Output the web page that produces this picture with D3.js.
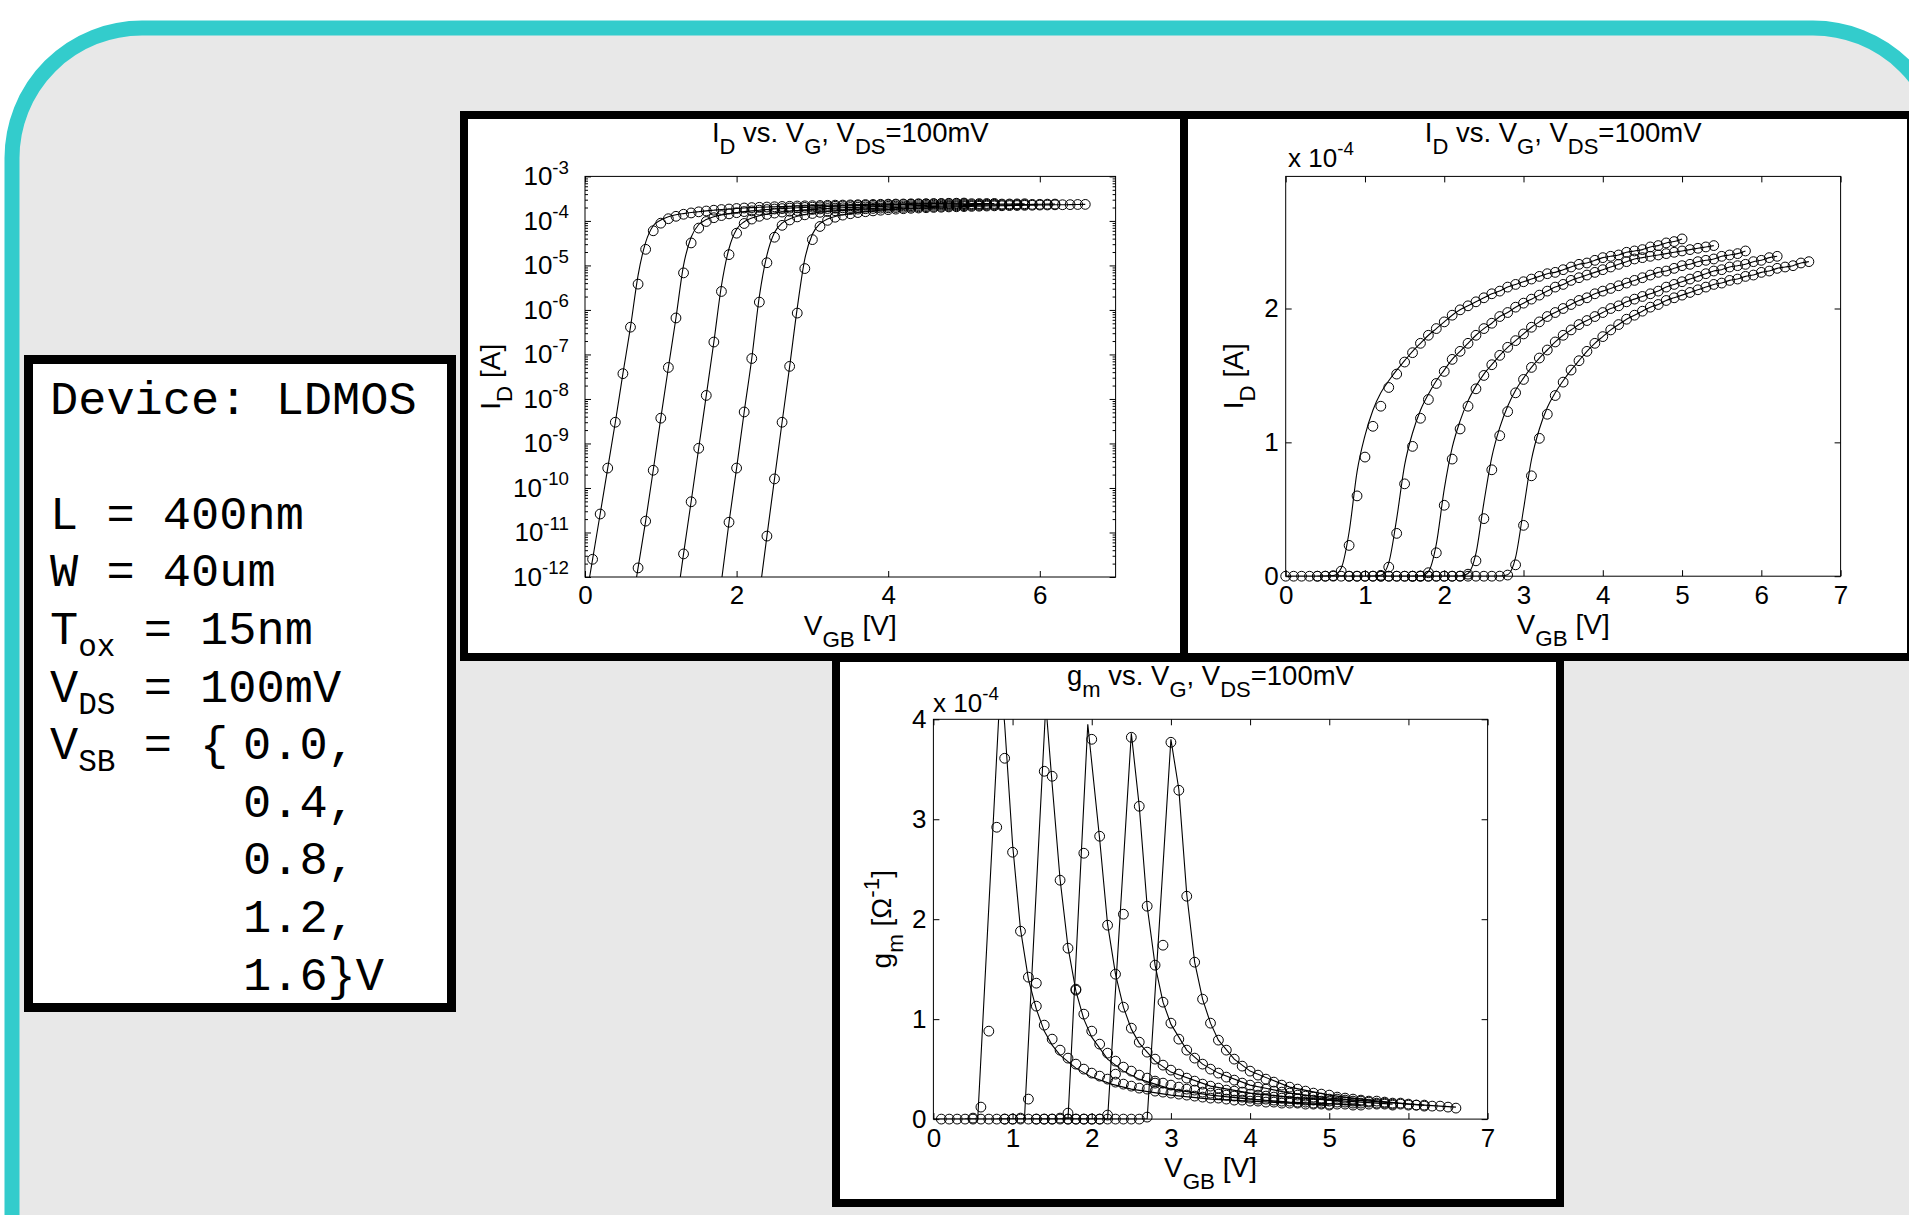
<!DOCTYPE html>
<html>
<head>
<meta charset="utf-8">
<script src="https://cdn.jsdelivr.net/npm/d3@7/dist/d3.min.js"></script>
<style>
html,body{margin:0;padding:0;background:#fff;}
svg{display:block;}
text{white-space:pre;}
</style>
</head>
<body>
<svg id="fig" width="1909" height="1215"></svg>
<script>
// ================= DATA =================
// body bias of each curve [V]
const vsbValues = [0.0, 0.4, 0.8, 1.2, 1.6];
// gate sweep relative to source [V]; V_GB = V_SB + V_G
const vgSweep = [0.0,0.1,0.2,0.3,0.4,0.5,0.6,0.7,0.8,0.9,1.0,1.1,1.2,1.3,1.4,1.5,1.6,1.7,1.8,1.9,
  2.0,2.1,2.2,2.3,2.4,2.5,2.6,2.7,2.8,2.9,3.0,3.1,3.2,3.3,3.4,3.5,3.6,3.7,3.8,3.9,
  4.0,4.1,4.2,4.3,4.4,4.5,4.6,4.7,4.8,4.9,5.0];

// measured drain current I_D [A] (circles), one value per vgSweep step
const idMeas0 = [2.4e-13,2.5e-12,2.6e-11,2.8e-10,3.0e-9,3.7e-8,4.1e-7,3.8e-6,2.3e-5,6.0e-5,
  8.9e-5,1.12e-4,1.27e-4,1.41e-4,1.51e-4,1.60e-4,1.67e-4,1.74e-4,1.80e-4,1.85e-4,
  1.90e-4,1.95e-4,1.99e-4,2.02e-4,2.05e-4,2.08e-4,2.11e-4,2.13e-4,2.16e-4,2.18e-4,
  2.20e-4,2.22e-4,2.24e-4,2.26e-4,2.27e-4,2.29e-4,2.31e-4,2.33e-4,2.34e-4,2.36e-4,
  2.38e-4,2.39e-4,2.40e-4,2.42e-4,2.43e-4,2.44e-4,2.46e-4,2.47e-4,2.49e-4,2.50e-4,2.52e-4];
const idMeas1 = [1.0e-15,1.2e-14,1.4e-13,1.6e-12,1.8e-11,2.5e-10,3.7e-9,5.1e-8,6.6e-7,6.8e-6,
  3.2e-5,6.9e-5,9.7e-5,1.18e-4,1.32e-4,1.44e-4,1.53e-4,1.62e-4,1.68e-4,1.74e-4,
  1.80e-4,1.85e-4,1.89e-4,1.94e-4,1.97e-4,2.01e-4,2.04e-4,2.07e-4,2.10e-4,2.13e-4,
  2.16e-4,2.18e-4,2.21e-4,2.23e-4,2.25e-4,2.27e-4,2.29e-4,2.31e-4,2.33e-4,2.35e-4,
  2.37e-4,2.38e-4,2.39e-4,2.40e-4,2.41e-4,2.42e-4,2.43e-4,2.44e-4,2.45e-4,2.46e-4,2.47e-4];
const idMeas2 = [3e-18,5e-17,8e-16,1.3e-14,2.0e-13,3.3e-12,4.9e-11,7.8e-10,1.2e-8,1.9e-7,
  2.6e-6,1.75e-5,5.3e-5,8.75e-5,1.10e-4,1.27e-4,1.40e-4,1.50e-4,1.58e-4,1.65e-4,
  1.71e-4,1.76e-4,1.81e-4,1.86e-4,1.90e-4,1.94e-4,1.97e-4,2.00e-4,2.03e-4,2.06e-4,
  2.08e-4,2.11e-4,2.13e-4,2.15e-4,2.17e-4,2.19e-4,2.21e-4,2.23e-4,2.25e-4,2.27e-4,
  2.28e-4,2.30e-4,2.32e-4,2.33e-4,2.35e-4,2.36e-4,2.37e-4,2.39e-4,2.40e-4,2.41e-4,2.43e-4];
const idMeas3 = [5e-20,7e-19,1e-17,2e-16,3e-15,5e-14,8e-13,1.7e-11,2.8e-10,5.1e-9,
  8.1e-8,1.5e-6,1.15e-5,4.3e-5,7.95e-5,1.05e-4,1.23e-4,1.37e-4,1.47e-4,1.56e-4,
  1.63e-4,1.69e-4,1.75e-4,1.80e-4,1.84e-4,1.88e-4,1.91e-4,1.94e-4,1.97e-4,2.00e-4,
  2.02e-4,2.05e-4,2.07e-4,2.09e-4,2.11e-4,2.13e-4,2.16e-4,2.18e-4,2.20e-4,2.22e-4,
  2.24e-4,2.26e-4,2.28e-4,2.29e-4,2.31e-4,2.32e-4,2.33e-4,2.35e-4,2.36e-4,2.38e-4,2.39e-4];
const idMeas4 = [2e-21,3e-20,4e-19,6e-18,8e-17,1e-15,2e-14,4e-13,8.3e-12,1.6e-10,
  3.0e-9,5.4e-8,8.5e-7,8.5e-6,3.8e-5,7.5e-5,1.03e-4,1.21e-4,1.35e-4,1.45e-4,
  1.54e-4,1.61e-4,1.68e-4,1.74e-4,1.79e-4,1.84e-4,1.88e-4,1.92e-4,1.95e-4,1.98e-4,
  2.01e-4,2.03e-4,2.06e-4,2.08e-4,2.10e-4,2.12e-4,2.14e-4,2.16e-4,2.18e-4,2.19e-4,
  2.21e-4,2.22e-4,2.24e-4,2.25e-4,2.27e-4,2.28e-4,2.30e-4,2.31e-4,2.32e-4,2.34e-4,2.35e-4];

// model (solid line) values that differ from the measurement near the knee: [V_GB, I_D]
const idModelKnee0 = [[0.7,6e-6],[0.8,3.3e-5],[0.9,7.8e-5],[1.0,1.05e-4],[1.1,1.24e-4],[1.2,1.37e-4],[1.3,1.46e-4],[1.4,1.54e-4],[1.5,1.61e-4],[1.6,1.68e-4],[1.7,1.74e-4]];
const idModelKnee1 = [[1.3,1.0e-5],[1.4,4.3e-5],[1.5,8.3e-5],[1.6,1.07e-4],[1.7,1.24e-4],[1.8,1.36e-4],[1.9,1.46e-4],[2.0,1.54e-4]];
const idModelKnee2 = [[1.8,3.5e-6],[1.9,2.4e-5],[2.0,6.5e-5],[2.1,9.6e-5],[2.2,1.16e-4],[2.3,1.31e-4],[2.4,1.42e-4],[2.5,1.51e-4]];
const idModelKnee3 = [[2.3,2.0e-6],[2.4,1.7e-5],[2.5,5.5e-5],[2.6,8.9e-5],[2.7,1.11e-4],[2.8,1.27e-4],[2.9,1.39e-4],[3.0,1.48e-4]];
const idModelKnee4 = [[2.8,1.1e-6],[2.9,1.4e-5],[3.0,5.0e-5],[3.1,8.7e-5],[3.2,1.10e-4],[3.3,1.26e-4],[3.4,1.37e-4],[3.5,1.46e-4]];

// measured transconductance g_m [x1e-4 1/Ohm], at vgSweep[1..50]
const gmMeas0 = [0,0,0,0,0.01,0.12,0.88,2.92,3.61,2.67,1.88,1.42,1.13,0.94,0.80,0.69,0.61,0.55,0.50,0.46,
  0.43,0.40,0.37,0.35,0.33,0.31,0.30,0.28,0.27,0.26,0.25,0.24,0.23,0.22,0.21,0.21,0.20,0.19,0.19,0.18,
  0.18,0.17,0.17,0.16,0.16,0.16,0.15,0.15,0.15,0.14];
const gmMeas1 = [0,0,0,0,0,0,0.01,0.20,1.36,3.48,3.43,2.39,1.71,1.30,1.05,0.88,0.75,0.66,0.58,0.52,
  0.48,0.44,0.41,0.38,0.36,0.34,0.32,0.30,0.29,0.27,0.26,0.25,0.24,0.23,0.22,0.21,0.20,0.20,0.19,0.18,
  0.18,0.17,0.17,0.16,0.16,0.15,0.15,0.15,0.14,0.14];
const gmMeas2 = [0,0,0,0,0,0,0,0.01,0.06,1.29,2.66,3.80,2.83,1.94,1.45,1.12,0.91,0.77,0.67,0.60,
  0.54,0.49,0.45,0.41,0.38,0.35,0.33,0.31,0.29,0.28,0.27,0.25,0.24,0.23,0.22,0.21,0.21,0.20,0.19,0.19,
  0.18,0.18,0.17,0.17,0.16,0.16,0.15,0.15,0.15,0.14];
const gmMeas3 = [0,0,0,0,0,0,0,0,0,0.04,0.45,2.05,3.82,3.13,2.13,1.54,1.17,0.96,0.80,0.69,
  0.61,0.55,0.50,0.46,0.42,0.39,0.36,0.34,0.32,0.30,0.28,0.27,0.26,0.24,0.23,0.22,0.21,0.20,0.20,0.19,
  0.18,0.18,0.17,0.16,0.16,0.15,0.15,0.14,0.14,0.13];
const gmMeas4 = [0,0,0,0,0,0,0,0,0,0,0.02,0.36,1.74,3.77,3.29,2.23,1.57,1.20,0.96,0.79,
  0.69,0.60,0.53,0.48,0.44,0.40,0.37,0.34,0.32,0.30,0.28,0.26,0.25,0.24,0.22,0.21,0.20,0.19,0.18,0.18,
  0.17,0.16,0.16,0.15,0.14,0.14,0.13,0.13,0.12,0.11];

// model g_m lines: [V_GB, g_m x1e-4]
const gmModel0 = [[0.0,0],[0.56,0],[0.85,4.4],[0.9,3.95],[1.0,2.75],[1.1,1.9],[1.2,1.4],[1.3,1.1],[1.4,0.88],[1.5,0.74],[1.6,0.64],[1.8,0.51],[2.0,0.42],[2.25,0.35],[2.5,0.30],[3.0,0.24],[3.5,0.20],[4.0,0.18],[4.5,0.16],[5.0,0.14]];
const gmModel1 = [[0.4,0],[1.15,0],[1.42,4.15],[1.5,3.35],[1.6,2.4],[1.7,1.72],[1.8,1.28],[1.9,1.0],[2.0,0.82],[2.2,0.6],[2.4,0.48],[2.6,0.40],[3.0,0.30],[3.5,0.24],[4.0,0.20],[4.5,0.17],[5.4,0.14]];
const gmModel2 = [[0.8,0],[1.7,0],[1.95,3.95],[2.1,2.8],[2.2,1.95],[2.3,1.45],[2.4,1.12],[2.5,0.9],[2.6,0.76],[2.8,0.58],[3.0,0.47],[3.5,0.33],[4.0,0.26],[4.5,0.22],[5.0,0.19],[5.8,0.15]];
const gmModel3 = [[1.2,0],[2.2,0],[2.5,3.86],[2.6,3.13],[2.7,2.13],[2.8,1.54],[2.9,1.17],[3.0,0.95],[3.2,0.69],[3.4,0.55],[3.6,0.46],[4.0,0.34],[4.5,0.26],[5.0,0.21],[5.5,0.18],[6.2,0.14]];
const gmModel4 = [[1.6,0],[2.7,0],[3.0,3.8],[3.1,3.3],[3.2,2.25],[3.3,1.57],[3.4,1.2],[3.5,0.96],[3.6,0.79],[3.8,0.6],[4.0,0.48],[4.5,0.32],[5.0,0.24],[5.5,0.19],[6.0,0.15],[6.6,0.12]];

// ticks
const xTicksLog = [0, 2, 4, 6];
const xTicksLin = [0, 1, 2, 3, 4, 5, 6, 7];
const logExponents = [-3, -4, -5, -6, -7, -8, -9, -10, -11, -12];
const logMinorMult = [2, 3, 4, 5, 6, 7, 8, 9];
const yTicksId = [0, 1, 2];
const yTicksGm = [0, 1, 2, 3, 4];
const idUnit = 1e-4;

// ================= DRAWING =================
const idMeas = [idMeas0, idMeas1, idMeas2, idMeas3, idMeas4];
const idKnee = [idModelKnee0, idModelKnee1, idModelKnee2, idModelKnee3, idModelKnee4];
const gmMeas = [gmMeas0, gmMeas1, gmMeas2, gmMeas3, gmMeas4];
const gmModel = [gmModel0, gmModel1, gmModel2, gmModel3, gmModel4];

const SANS = "'Liberation Sans', Arial, Helvetica, sans-serif";
const MONO = "'Liberation Mono', 'Courier New', monospace";
const svg = d3.select('#fig');

svg.append('rect').attr('width', 1909).attr('height', 1215).attr('fill', '#fff');
// teal rounded frame
svg.append('rect').attr('x', 12).attr('y', 28).attr('width', 1931).attr('height', 1400)
  .attr('rx', 130).attr('ry', 130).attr('fill', '#e8e8e8')
  .attr('stroke', '#33cccc').attr('stroke-width', 15);

function rich(parent, parts, o) {
  const size = o.size || 26;
  const t = parent.append('text').attr('x', o.x || 0).attr('y', o.y || 0)
    .attr('font-size', size).attr('font-family', o.family || SANS)
    .attr('text-anchor', o.anchor || 'start').attr('fill', '#000');
  let cur = 0;
  parts.forEach(([s, mode]) => {
    const target = mode === 'sub' ? size * (o.subShift || 0.4) : mode === 'sup' ? -size * (o.supShift || 0.45) : 0;
    const ts = t.append('tspan').text(s).attr('dy', target - cur);
    if (mode) ts.attr('font-size', size * (o.subScale || 0.72));
    cur = target;
  });
  return t;
}

function panel(x0, y0, x1, y1, sw) {
  svg.append('rect').attr('x', x0 + sw / 2).attr('y', y0 + sw / 2)
    .attr('width', x1 - x0 - sw).attr('height', y1 - y0 - sw)
    .attr('fill', '#fff').attr('stroke', '#000').attr('stroke-width', sw);
}

// info box
panel(24, 355, 456, 1012, 9);
const info = svg.append('g');
const lineY = k => 413.6 + 57.6 * k;
const INFO_FS = 47;
const infoOpts = (k, x) => ({x: x, y: lineY(k), size: INFO_FS, family: MONO, subScale: 0.66, subShift: 0.26});
rich(info, [['Device: LDMOS', '']], infoOpts(0, 50));
rich(info, [['L = 400nm', '']], infoOpts(2, 50));
rich(info, [['W = 40um', '']], infoOpts(3, 50));
rich(info, [['T', ''], ['ox', 'sub'], [' = 15nm', '']], infoOpts(4, 50));
rich(info, [['V', ''], ['DS', 'sub'], [' = 100mV', '']], infoOpts(5, 50));
rich(info, [['V', ''], ['SB', 'sub'], [' = {', '']], infoOpts(6, 50));
const vsbLabels = ['0.0,', '0.4,', '0.8,', '1.2,', '1.6}V'];
vsbLabels.forEach((s, i) => rich(info, [[s, '']], infoOpts(6 + i, 243)));

// chart panels
panel(460, 111, 1190, 661, 8);
panel(1180, 111, 1915, 661, 8);
panel(832, 654, 1564, 1207, 8);

let clipN = 0;
function makeAxes(box, x, y) {
  const g = svg.append('g');
  const id = 'clip' + (clipN++);
  g.append('clipPath').attr('id', id).append('rect')
    .attr('x', box.l).attr('y', box.t).attr('width', box.r - box.l).attr('height', box.b - box.t);
  return {g, id, box, x, y};
}

function styleAxis(sel) {
  sel.select('.domain').remove();
  sel.selectAll('line').attr('stroke', '#000').attr('stroke-width', 1);
  sel.selectAll('text').attr('font-size', 26).attr('font-family', SANS).attr('fill', '#000');
}

function frameAndTicks(A, xt, yt, yFormat) {
  const {g, box, x, y} = A;
  const TL = 6;
  g.append('g').attr('transform', `translate(0,${box.b})`)
    .call(d3.axisBottom(x).tickValues(xt).tickSize(-TL).tickPadding(9).tickFormat(d3.format('d'))).call(styleAxis);
  g.append('g').attr('transform', `translate(0,${box.t})`)
    .call(d3.axisTop(x).tickValues(xt).tickSize(-TL).tickFormat('')).call(styleAxis);
  g.append('g').attr('transform', `translate(${box.l},0)`)
    .call(d3.axisLeft(y).tickValues(yt).tickSize(-TL).tickPadding(7).tickFormat(yFormat)).call(styleAxis);
  g.append('g').attr('transform', `translate(${box.r},0)`)
    .call(d3.axisRight(y).tickValues(yt).tickSize(-TL).tickFormat('')).call(styleAxis);
  g.append('rect').attr('x', box.l).attr('y', box.t).attr('width', box.r - box.l).attr('height', box.b - box.t)
    .attr('fill', 'none').attr('stroke', '#000').attr('stroke-width', 1);
}

function drawSeries(A, pts, linePts, curve) {
  const {g, id, x, y} = A;
  const [ylo, yhi] = y.domain();
  const [xlo, xhi] = x.domain();
  g.append('path').datum(linePts).attr('clip-path', `url(#${id})`)
    .attr('d', d3.line().x(d => x(d[0])).y(d => y(d[1])).curve(curve))
    .attr('fill', 'none').attr('stroke', '#000').attr('stroke-width', 1.1);
  g.append('g').selectAll('circle')
    .data(pts.filter(d => d[1] >= ylo && d[1] <= yhi && d[0] >= xlo && d[0] <= xhi))
    .join('circle').attr('cx', d => x(d[0])).attr('cy', d => y(d[1])).attr('r', 4.9)
    .attr('fill', 'none').attr('stroke', '#000').attr('stroke-width', 1);
}

function idPoints(k) {
  return vgSweep.map((vg, i) => [vsbValues[k] + vg, idMeas[k][i]]);
}
function idModelPoints(k) {
  return idPoints(k).map(p => {
    const o = idKnee[k].find(q => Math.abs(q[0] - p[0]) < 1e-6);
    return o ? [p[0], o[1]] : p;
  });
}

// ---- chart 1 : log ID ----
const box1 = {l: 585, r: 1115.6, t: 176.4, b: 577};
const x1 = d3.scaleLinear().domain([0, 7]).range([box1.l, box1.r]);
const y1 = d3.scaleLog().domain([1e-12, 1e-3]).range([box1.b, box1.t]);
const A1 = makeAxes(box1, x1, y1);
for (let k = 0; k < 5; k++) drawSeries(A1, idPoints(k), idModelPoints(k), d3.curveMonotoneX);
const majorLog = logExponents.map(e => Math.pow(10, e));
frameAndTicks(A1, xTicksLog, majorLog, () => '');
const minorLog = [];
logExponents.slice(1).forEach(e => logMinorMult.forEach(m => minorLog.push(m * Math.pow(10, e))));
A1.g.append('g').attr('transform', `translate(${box1.l},0)`)
  .call(d3.axisLeft(y1).tickValues(minorLog).tickSize(-3).tickFormat('')).call(styleAxis);
A1.g.append('g').attr('transform', `translate(${box1.r},0)`)
  .call(d3.axisRight(y1).tickValues(minorLog).tickSize(-3).tickFormat('')).call(styleAxis);
logExponents.forEach(e => {
  rich(A1.g, [['10', ''], [String(e), 'sup']], {x: 569, y: y1(Math.pow(10, e)) + 9, anchor: 'end', size: 26});
});

// ---- chart 2 : linear ID ----
const box2 = {l: 1285.7, r: 1840.6, t: 176.4, b: 576.2};
const x2 = d3.scaleLinear().domain([0, 7]).range([box2.l, box2.r]);
const y2 = d3.scaleLinear().domain([0, 2.987 * idUnit]).range([box2.b, box2.t]);
const A2 = makeAxes(box2, x2, y2);
for (let k = 0; k < 5; k++) drawSeries(A2, idPoints(k), idModelPoints(k), d3.curveMonotoneX);
frameAndTicks(A2, xTicksLin, yTicksId.map(v => v * idUnit), d => d3.format('d')(Math.round(d / idUnit)));

// ---- chart 3 : gm ----
const box3 = {l: 933.4, r: 1487.6, t: 719.3, b: 1119.1};
const x3 = d3.scaleLinear().domain([0, 7]).range([box3.l, box3.r]);
const y3 = d3.scaleLinear().domain([0, 4]).range([box3.b, box3.t]);
const A3 = makeAxes(box3, x3, y3);
for (let k = 0; k < 5; k++) {
  const pts = gmMeas[k].map((v, i) => [vsbValues[k] + vgSweep[i + 1], v]);
  drawSeries(A3, pts, gmModel[k], d3.curveLinear);
}
frameAndTicks(A3, xTicksLin, yTicksGm, d3.format('d'));

// ---- titles & labels ----
const titleParts = [['I', ''], ['D', 'sub'], [' vs. V', ''], ['G', 'sub'], [', V', ''], ['DS', 'sub'], ['=100mV', '']];
const gmTitleParts = [['g', ''], ['m', 'sub'], [' vs. V', ''], ['G', 'sub'], [', V', ''], ['DS', 'sub'], ['=100mV', '']];
const xLabelParts = [['V', ''], ['GB', 'sub'], [' [V]', '']];
const idLabelParts = [['I', ''], ['D', 'sub'], [' [A]', '']];
const gmLabelParts = [['g', ''], ['m', 'sub'], [' [\u03A9', ''], ['-1', 'sup'], [']', '']];
const expParts = [['x 10', ''], ['-4', 'sup']];

const cx = b => (b.l + b.r) / 2, cy = b => (b.t + b.b) / 2;
const titleOpt = {anchor: 'middle', size: 27.5, subScale: 0.8, subShift: 0.42};
rich(svg, titleParts, Object.assign({x: cx(box1), y: 142}, titleOpt));
rich(svg, titleParts, Object.assign({x: cx(box2), y: 142}, titleOpt));
rich(svg, gmTitleParts, Object.assign({x: cx(box3), y: 685}, titleOpt));
const labOpt = {anchor: 'middle', size: 28, subScale: 0.8, subShift: 0.42, supShift: 0.42};
[box1, box2, box3].forEach(b => rich(svg, xLabelParts, Object.assign({x: cx(b), y: b.b + 58}, labOpt)));
function ylab(parts, x, y) {
  const g = svg.append('g').attr('transform', `translate(${x},${y}) rotate(-90)`);
  rich(g, parts, Object.assign({x: 0, y: 0}, labOpt));
}
ylab(idLabelParts, 500, cy(box1));
ylab(idLabelParts, 1243, cy(box2));
ylab(gmLabelParts, 891, cy(box3));
rich(svg, expParts, {x: 1288, y: 167, size: 26});
rich(svg, expParts, {x: 933, y: 712, size: 26});
</script>
</body>
</html>
